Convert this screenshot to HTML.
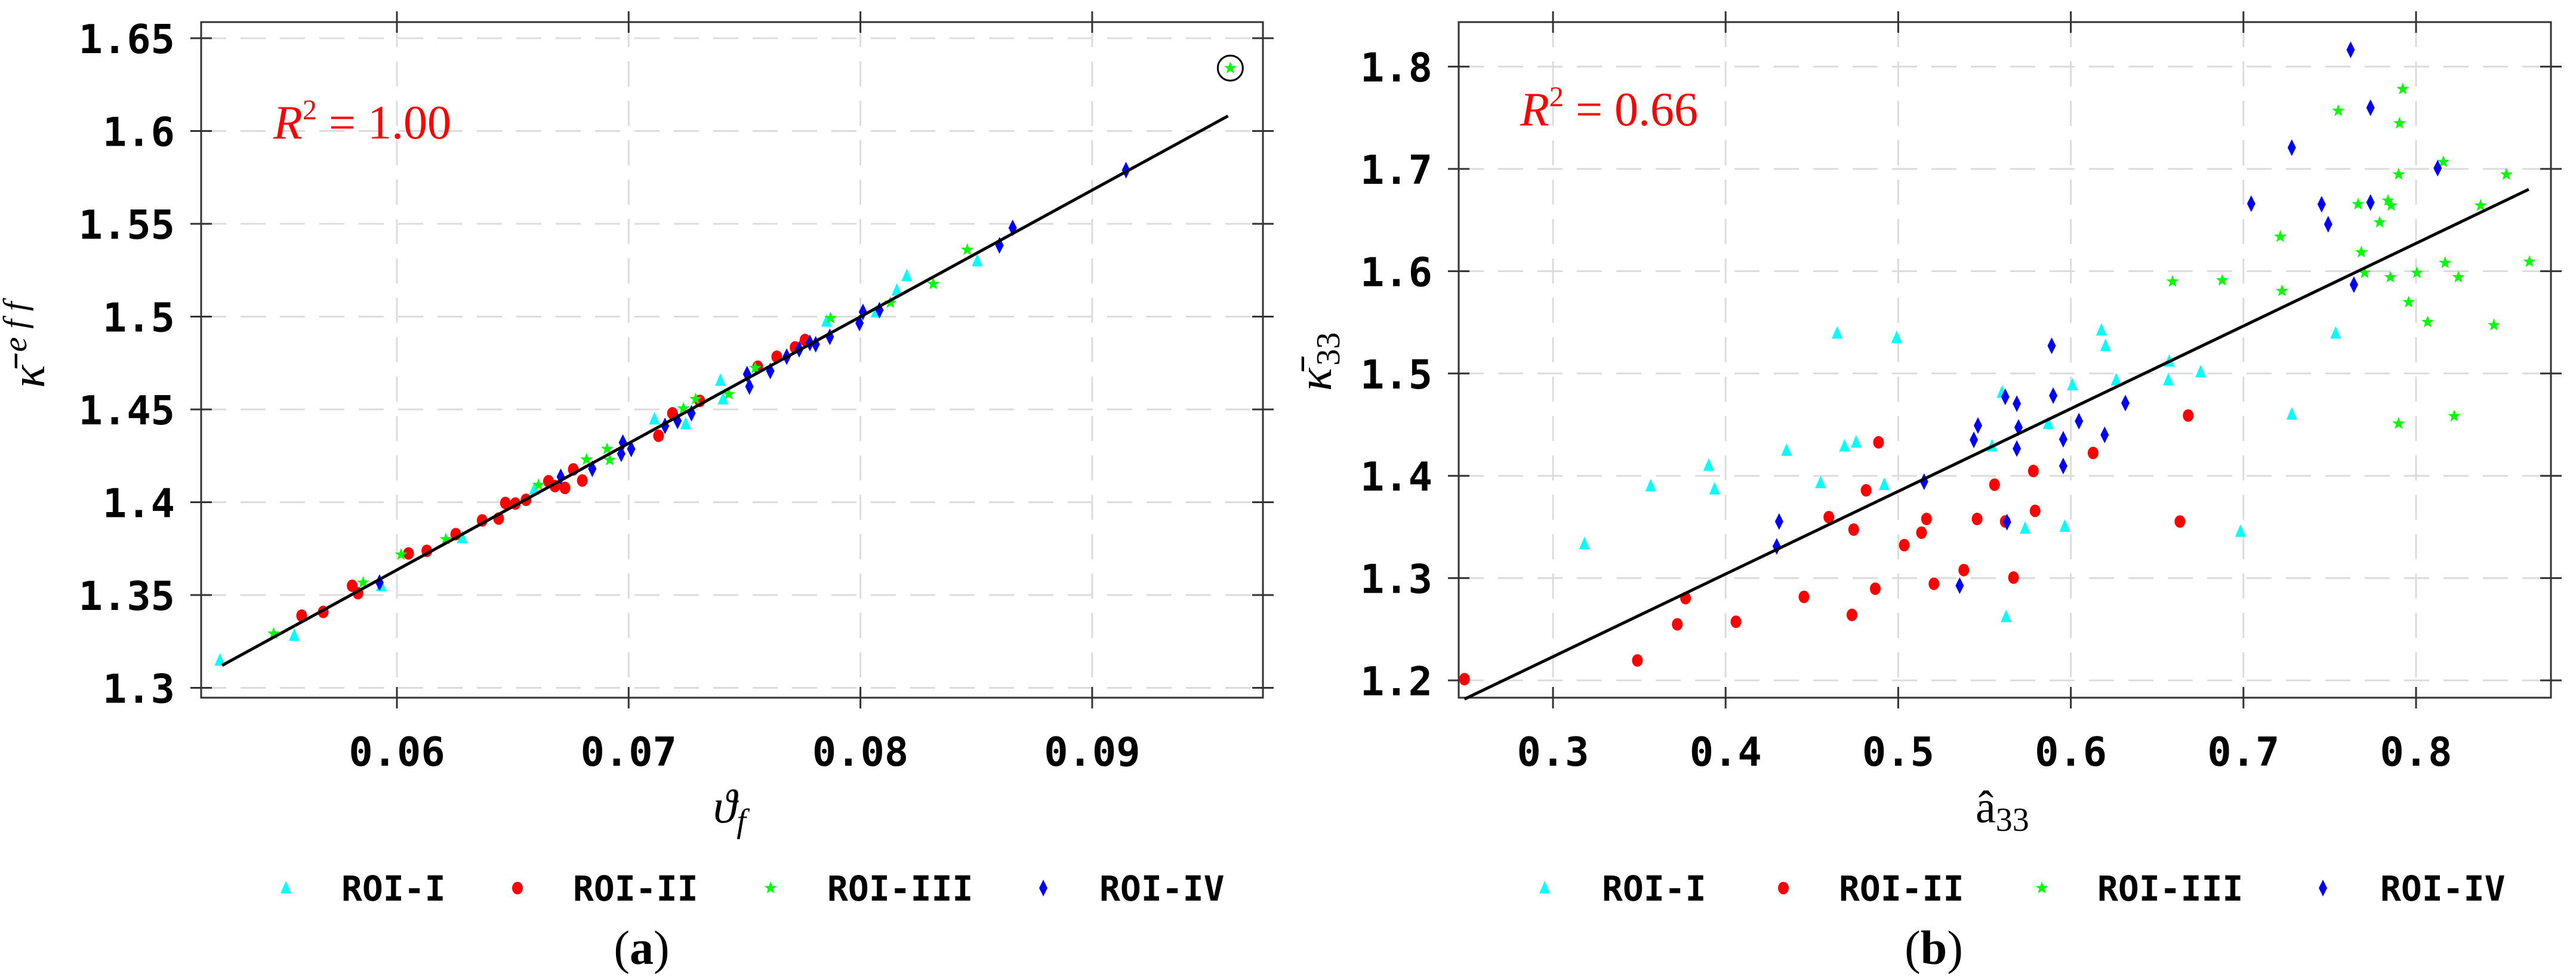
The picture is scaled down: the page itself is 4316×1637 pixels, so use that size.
<!DOCTYPE html>
<html><head><meta charset="utf-8"><style>
html,body{margin:0;padding:0;background:#fff;}
svg{display:block;}
.tk{font-family:"DejaVu Sans Mono","Liberation Mono",monospace;font-weight:bold;font-size:67px;fill:#000;}
.lg{font-family:"DejaVu Sans Mono","Liberation Mono",monospace;font-weight:bold;font-size:58px;fill:#000;}
.sr{font-family:"Liberation Serif","DejaVu Serif",serif;}
</style></head><body>
<svg id="fig" xmlns="http://www.w3.org/2000/svg" width="4316" height="1637" viewBox="0 0 4316 1637"></svg>
<script>
// ---------- Panel (a) data ----------
const aXTicks=[0.06,0.07,0.08,0.09];
const aYTicks=[1.3,1.35,1.4,1.45,1.5,1.55,1.6,1.65];
const aYTickLabels=["1.3","1.35","1.4","1.45","1.5","1.55","1.6","1.65"];
const aR1x=[0.05236,0.05557,0.05932,0.06282,0.06593,0.07111,0.07246,0.07396,0.07407,0.07854,0.08068,0.08157,0.0820,0.08504];
const aR1y=[1.3148,1.3282,1.355,1.3808,1.407,1.4448,1.4422,1.4656,1.4556,1.4975,1.5025,1.5142,1.522,1.53];
const aR2x=[0.05589,0.05682,0.05807,0.05832,0.0605,0.06129,0.06254,0.06368,0.06439,0.06468,0.06511,0.06557,0.06654,0.06682,0.06725,0.06761,0.068,0.07129,0.07189,0.07307,0.07557,0.07639,0.07718,0.07761];
const aR2y=[1.3389,1.3409,1.355,1.351,1.3724,1.3738,1.3828,1.3902,1.3912,1.3996,1.3993,1.4013,1.4113,1.4087,1.4077,1.4177,1.4117,1.4358,1.4479,1.4546,1.473,1.4784,1.4834,1.4874];
const aR3x=[0.05468,0.05854,0.06018,0.06211,0.06611,0.06818,0.06907,0.06918,0.07236,0.07289,0.07432,0.07546,0.07871,0.08129,0.08314,0.08461,0.09596];
const aR3y=[1.3292,1.3567,1.3718,1.3801,1.4093,1.423,1.4287,1.4227,1.4505,1.4556,1.4582,1.4723,1.4992,1.5075,1.5176,1.536,1.6339];
const aR4x=[0.05925,0.06707,0.06843,0.06968,0.06975,0.07011,0.07157,0.07211,0.07271,0.07511,0.07521,0.07611,0.07682,0.07736,0.07782,0.07807,0.07868,0.07996,0.08011,0.08082,0.086,0.08657,0.09146];
const aR4y=[1.3567,1.4137,1.418,1.4261,1.4321,1.4287,1.4411,1.4438,1.4479,1.469,1.4623,1.4707,1.4784,1.4824,1.4858,1.4851,1.4891,1.4965,1.5025,1.5035,1.5384,1.5478,1.5789];
const aFitX=[0.05246,0.09586];
const aFitY=[1.3121,1.6081];
// ---------- Panel (b) data ----------
const bXTicks=[0.3,0.4,0.5,0.6,0.7,0.8];
const bYTicks=[1.2,1.3,1.4,1.5,1.6,1.7,1.8];
const bR1x=[0.3182,0.3566,0.3902,0.3936,0.4353,0.455,0.4646,0.4689,0.4756,0.4919,0.4991,0.5543,0.5601,0.5625,0.5735,0.5869,0.5965,0.6009,0.6177,0.6201,0.6263,0.6565,0.657,0.6752,0.6983,0.728,0.7534];
const bR1y=[1.3334,1.39,1.4102,1.387,1.4248,1.3931,1.5393,1.429,1.4327,1.3913,1.535,1.429,1.4814,1.2621,1.3486,1.451,1.3505,1.4887,1.5423,1.5271,1.4936,1.4936,1.5119,1.5015,1.3456,1.4601,1.5393];
const bR2x=[0.2487,0.3489,0.372,0.3768,0.406,0.4454,0.4598,0.4742,0.4732,0.4814,0.4867,0.4886,0.5035,0.5135,0.5164,0.5207,0.538,0.5457,0.5558,0.562,0.5668,0.5783,0.5793,0.6129,0.6632,0.668];
const bR2y=[1.2012,1.2195,1.2548,1.2804,1.2573,1.2816,1.3596,1.3474,1.264,1.3858,1.2896,1.4327,1.3322,1.3444,1.3578,1.2944,1.3078,1.3578,1.3913,1.3553,1.3005,1.4047,1.3657,1.4223,1.3553,1.4589];
const bR3x=[0.6589,0.6877,0.7213,0.7223,0.7549,0.7664,0.7683,0.7702,0.7789,0.7837,0.7856,0.7851,0.7899,0.7904,0.7899,0.7923,0.7957,0.8005,0.8067,0.8158,0.8168,0.8221,0.8245,0.8374,0.8451,0.8523,0.8657];
const bR3y=[1.5899,1.5911,1.6337,1.5807,1.7568,1.6655,1.6185,1.5984,1.6477,1.669,1.6642,1.5941,1.6946,1.7446,1.451,1.7781,1.5697,1.5984,1.5503,1.7068,1.6081,1.4583,1.5941,1.6642,1.5472,1.6946,1.6093];
const bR4x=[0.4296,0.431,0.5356,0.5438,0.5462,0.562,0.5687,0.5697,0.5687,0.563,0.5889,0.5898,0.5956,0.5956,0.6047,0.6196,0.6316,0.515,0.7045,0.728,0.7453,0.7491,0.7621,0.764,0.7736,0.7736,0.8125];
const bR4y=[1.331,1.3553,1.2926,1.4351,1.4491,1.4772,1.4705,1.4473,1.4266,1.3547,1.5271,1.4784,1.4357,1.4096,1.4534,1.44,1.4711,1.3943,1.666,1.7208,1.6654,1.6459,1.8164,1.5868,1.7598,1.6672,1.7007];
const bFitX=[0.2487,0.8653];
const bFitY=[1.1817,1.68];

const NS="http://www.w3.org/2000/svg";
const svg=document.getElementById('fig');
function mk(tag,attrs,parent){const e=document.createElementNS(NS,tag);for(const k in attrs)e.setAttribute(k,attrs[k]);(parent||svg).appendChild(e);return e;}

const colors=["#00ffff","#ff0000","#00ff00","#0000ff"];
function marker(g,type,x,y){
  let e;
  if(type===0){e=mk('polygon',{points:`${x},${y-12} ${x-9},${y+9} ${x+9},${y+9}`,fill:colors[0]},g);}
  else if(type===1){e=mk('ellipse',{cx:x,cy:y,rx:9,ry:10.5,fill:colors[1]},g);}
  else if(type===2){let p=[];for(let i=0;i<10;i++){const r=i%2?4.5:11;const a=-Math.PI/2+i*Math.PI/5;p.push((x+r*Math.cos(a)).toFixed(1)+','+(y+r*Math.sin(a)).toFixed(1));}
    e=mk('polygon',{points:p.join(' '),fill:colors[2]},g);}
  else {e=mk('polygon',{points:`${x},${y-14} ${x+7},${y} ${x},${y+14} ${x-7},${y}`,fill:colors[3]},g);}
  return e;
}

function panel(cfg){
  const g=mk('g',{});
  
  
  const X=v=>cfg.x0+(v-cfg.xv0)*cfg.xs, Y=v=>cfg.y0-(v-cfg.yv0)*cfg.ys;
  cfg.xt.forEach(v=>{const l=mk('line',{x1:X(v),x2:X(v),y1:cfg.top,y2:cfg.bot,stroke:'#dcdcdc','stroke-width':3,'stroke-dasharray':'42 24'},g);
    });
  cfg.yt.forEach(v=>{const l=mk('line',{x1:cfg.left,x2:cfg.right,y1:Y(v),y2:Y(v),stroke:'#dcdcdc','stroke-width':3,'stroke-dasharray':'42 24'},g);
    });
  const fr=mk('rect',{x:cfg.left,y:cfg.top,width:cfg.right-cfg.left,height:cfg.bot-cfg.top,fill:'none',stroke:'#333','stroke-width':3},g);
  
  cfg.xt.forEach((v,i)=>{
    [cfg.top,cfg.bot].forEach(yy=>mk('line',{x1:X(v),x2:X(v),y1:yy-18,y2:yy+18,stroke:'#333','stroke-width':3},g));
    const t=mk('text',{x:X(v),y:cfg.bot+114,'text-anchor':'middle',class:'tk'},g);t.textContent=cfg.xl[i];
    
  });
  cfg.yt.forEach((v,i)=>{
    [cfg.left,cfg.right].forEach(xx=>mk('line',{x1:xx-18,x2:xx+18,y1:Y(v),y2:Y(v),stroke:'#333','stroke-width':3},g));
    const t=mk('text',{x:cfg.left-44,y:Y(v)+25,'text-anchor':'end',class:'tk'},g);t.textContent=cfg.yl[i];
    
  });
  cfg.series.forEach((s,si)=>{
    const sg=mk('g',{},g);
    
    s[0].forEach((xv,i)=>{const m=marker(sg,si,X(xv),Y(s[1][i]));
      });
  });
  const fl=mk('line',{x1:X(cfg.fx[0]),y1:Y(cfg.fy[0]),x2:X(cfg.fx[1]),y2:Y(cfg.fy[1]),stroke:'#000','stroke-width':5},g);
  
  if(cfg.outlier!==undefined){const s=cfg.series[2];const i=cfg.outlier;
    const c=mk('circle',{cx:X(s[0][i]),cy:Y(s[1][i]),r:21,fill:'none',stroke:'#000','stroke-width':3},g);
    }
  return g;
}

panel({name:'panel-a',left:337,right:2116,top:37,bot:1169,x0:665,xv0:0.06,xs:38830,y0:1152.5,yv0:1.3,ys:3110,
  xt:aXTicks,xl:aXTicks.map(v=>v.toFixed(2)),yt:aYTicks,yl:aYTickLabels,
  series:[[aR1x,aR1y],[aR2x,aR2y],[aR3x,aR3y],[aR4x,aR4y]],fx:aFitX,fy:aFitY,outlier:16});
panel({name:'panel-b',left:2444,right:4274,top:37,bot:1169,x0:2602,xv0:0.3,xs:2892,y0:1140,yv0:1.2,ys:1714,
  xt:bXTicks,xl:bXTicks.map(v=>v.toFixed(1)),yt:bYTicks,yl:bYTicks.map(v=>v.toFixed(1)),
  series:[[bR1x,bR1y],[bR2x,bR2y],[bR3x,bR3y],[bR4x,bR4y]],fx:bFitX,fy:bFitY});

function legend(name,items){
  const g=mk('g',{});
  const labels=["ROI-I","ROI-II","ROI-III","ROI-IV"];
  items.forEach((it,i)=>{
    const m=marker(g,i,it[0],1488);
    const t=mk('text',{x:it[1],y:1509,class:'lg'},g);t.textContent=labels[i];
    
  });
}
legend('legend-a',[[479,572],[867,960],[1291,1386],[1748,1842]]);
legend('legend-b',[[2588,2684],[2988,3081],[3421,3514],[3892,3988]]);
</script>
<svg style="position:absolute;left:0;top:0" width="4316" height="1637">
  <text x="458" y="232" class="sr" font-size="80" fill="#ff0000"><tspan font-style="italic">R</tspan><tspan dy="-32" font-size="48">2</tspan><tspan dy="32"> = 1.00</tspan></text>
  <text x="2547" y="210" class="sr" font-size="80" fill="#ff0000"><tspan font-style="italic">R</tspan><tspan dy="-32" font-size="48">2</tspan><tspan dy="32"> = 0.66</tspan></text>
  <text x="1195" y="1378" class="sr" font-size="80" font-style="italic">ϑ<tspan dy="16" font-size="56">f</tspan></text>
  <text x="3310" y="1378" class="sr" font-size="76">â<tspan dy="14" font-size="56">33</tspan></text>
  <text transform="translate(74,650) rotate(-90)" class="sr" font-size="80" font-style="italic">κ̄<tspan dx="22" dy="-30" font-size="56">e f f</tspan></text>
  <text transform="translate(2230,655) rotate(-90)" class="sr" font-size="80" font-style="italic">κ̄<tspan dx="4" dy="14" font-size="56" font-style="normal">33</tspan></text>
  <text x="1075" y="1615" text-anchor="middle" class="sr" font-size="80">(<tspan font-weight="bold">a</tspan>)</text>
  <text x="3240" y="1615" text-anchor="middle" class="sr" font-size="80">(<tspan font-weight="bold">b</tspan>)</text>
</svg>
</body></html>
